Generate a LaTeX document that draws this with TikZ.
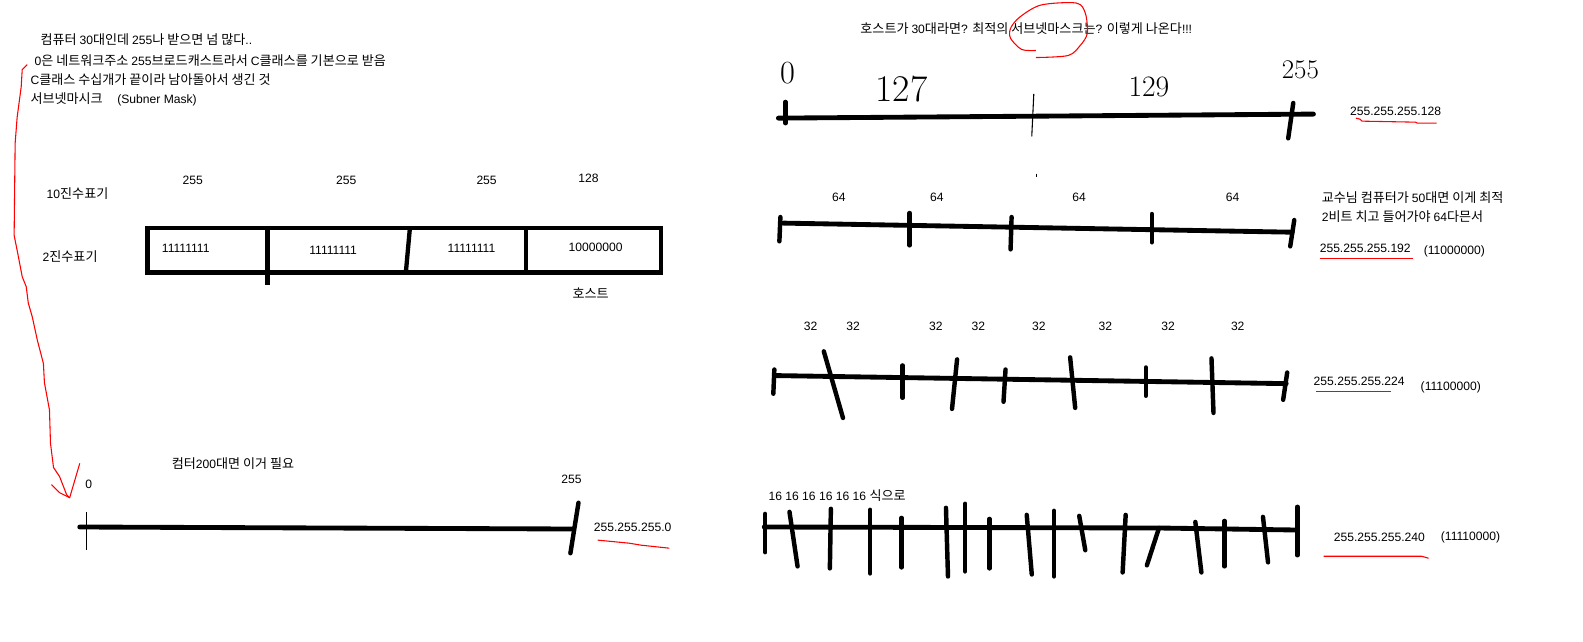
\documentclass[tikz,border=0pt]{standalone}
\usepackage{fontspec}
\newfontfamily\kr{Noto Sans CJK KR}[Scale=1.08]
\newfontfamily\lat{Liberation Sans}
\begin{document}
\begin{tikzpicture}[x=0.75pt,y=-0.75pt,
  txt/.style={font=\lat\fontsize{9}{11}\selectfont, inner sep=0pt, anchor=west},
  ctxt/.style={font=\lat\fontsize{9}{11}\selectfont, inner sep=0pt},
  hand/.style={font=\normalfont\fontsize{24}{24}\selectfont, inner sep=0pt},
  bar/.style={line width=3.6pt, line cap=round},
  tk/.style={line width=3.3pt, line cap=round},
  thinl/.style={line width=0.8pt},
  redl/.style={draw=red, line width=0.8pt},
  boxl/.style={line width=3.2pt}]
\useasboundingbox (0,0) rectangle (1568,635);
\fill[white] (0,0) rectangle (1568,635);

% ---------- top-left notes ----------
\node[txt] (t1) at (40,39) {{\kr 컴퓨터 }30{\kr 대인데 }255{\kr 나 받으면 넘 많다}..};
\node[txt] (t2) at (34,60) {0{\kr 은 네트워크주소 }255{\kr 브로드캐스트라서 }C{\kr 클래스를 기본으로 받음}};
\node[txt] (t3) at (30,79) {C{\kr 클래스 수십개가 끝이라 남아돌아서 생긴 것}};
\node[txt] (t4) at (30,98) {{\kr 서브넷마시크}\hspace{1.2em}(Subner Mask)};

% red arrow
\draw[redl] plot coordinates {(27,64) (22,69) (21,86) (17,116) (15,142) (14,233) (17,248) (22,274) (26,284) (28,300) (32,314) (37,337) (43,360) (44,379) (49,406) (50,439) (53,463) (59,472) (66,490) (69,493)};
\coordinate (atip) at (69,493);
\coordinate (al) at (51,480);
\coordinate (ar) at (79,459);
\draw[redl] (al) -- (59,488) -- (atip) -- (ar);

% ---------- binary box ----------
\node[txt] (dec) at (46,192) {10{\kr 진수표기}};
\node[txt] (bin) at (42,254) {2{\kr 진수표기}};
\node[ctxt] (d1) at (191,179) {255};
\node[ctxt] (d2) at (343,179) {255};
\node[ctxt] (d3) at (482,179) {255};
\node[ctxt] (d4) at (583,177) {128};
\draw[boxl] (146,226) rectangle (655,270);
\draw[boxl] (265,226) -- (265,282);
\draw[boxl] (406,226) -- (402,270);
\draw[boxl] (521,226) -- (521,270);
\node[ctxt] (b1) at (184,246) {11111111};
\node[ctxt] (b2) at (330,248) {11111111};
\node[ctxt] (b3) at (467,246) {11111111};
\node[ctxt] (b4) at (590,245) {10000000};
\node[ctxt,font=\kr\fontsize{9}{11}\selectfont] (host) at (585,290) {호스트};

% ---------- bottom-left line ----------
\node[txt] (c200) at (170,459) {{\kr 컴터}200{\kr 대면 이거 필요}};
\node[ctxt] (z0) at (88,480) {0};
\node[ctxt] (z255) at (566,475) {255};
\draw[bar] (79,522) -- (568,524);
\draw[thinl] (86,507) -- (86,545);
\draw[tk] (573,498) -- (565,548);
\node[txt] (m0) at (588,522) {255.255.255.0};
\draw[redl] plot coordinates {(592,535) (623,538) (635,540) (663,543)};

% ---------- right: title ----------
\node[txt] (title) at (852,28) {{\kr 호스트가 }30{\kr 대라면}? {\kr 최적의 서브넷마스크는}? {\kr 이렇게 나온다}!!!};
\draw[redl] plot[smooth] coordinates {(1026,50) (1012,49) (1001,38) (1001,28) (1010,17) (1031,5) (1066,3) (1075,13) (1077,33) (1070,45) (1058,55) (1026,57)};

% row 1
\node[hand] (h0) at (780,72) {0};
\node[hand,font=\normalfont\fontsize{28}{28}\selectfont] (h127) at (893,88) {127};
\node[hand,font=\normalfont\fontsize{22}{22}\selectfont] (h129) at (1138,86) {129};
\node[hand,font=\normalfont\fontsize{20}{20}\selectfont] (h255) at (1288,69) {255};
\draw[bar] (771,117) -- (1301,113);
\draw[tk] (778,101) -- (778,122);
\draw[thinl] (1024,93) -- (1022,135);
\draw[tk] (1281,102) -- (1276,137);
\node[txt] (m128) at (1337,110) {255.255.255.128};
\draw[redl] plot coordinates {(1343,117) (1347,118) (1349,120) (1402,121) (1404,122) (1423,122)};

% row 2
\draw[thinl] (1027,172) -- (1027,175);
\node[ctxt] (s1) at (831,195) {64};
\node[ctxt] (s2) at (928,195) {64};
\node[ctxt] (s3) at (1069,195) {64};
\node[ctxt] (s4) at (1221,195) {64};
\draw[bar] (776,221) -- (1280,230);
\draw[tk] (773,215) -- (772,239);
\draw[tk] (901,211) -- (901,243);
\draw[tk] (1002,215) -- (1001,247);
\draw[tk] (1141,212) -- (1141,240);
\draw[tk] (1282,218) -- (1278,244);
\node[txt] (n1) at (1309,196) {{\kr 교수님 컴퓨터가 }50{\kr 대면 이게 최적}};
\node[txt] (n2) at (1309,215) {2{\kr 비트 치고 들어가야 }64{\kr 다믄서}};
\node[txt] (m192) at (1307,246) {255.255.255.192};
\node[txt] (b192) at (1410,249) {(11000000)};
\draw[redl] (1307,256) -- (1400,256);

% row 3
\foreach \x [count=\i] in {803,845,927,969,1029,1095,1157,1226}
  \node[ctxt] (th\i) at (\x,323) {32};
\draw[bar] (767,372) -- (1274,380);
\draw[tk] (767,366) -- (766,390);
\draw[tk] (816,348) -- (835,414);
\draw[tk] (894,362) -- (894,394);
\draw[tk] (948,356) -- (943,405);
\draw[tk] (996,366) -- (994,398);
\draw[tk] (1060,354) -- (1065,404);
\draw[tk] (1135,364) -- (1135,392);
\draw[tk] (1200,355) -- (1202,409);
\draw[tk] (1275,369) -- (1271,396);
\node[txt] (m224) at (1301,378) {255.255.255.224};
\node[txt] (b224) at (1407,384) {(11100000)};
\draw[redl] (1304,388) -- (1378,388);

% row 4
\node[txt] (sx) at (761,491) {16 16 16 16 16 16 {\kr 식으로}};
\draw[bar] (757,522) -- (1148,523) -- (1285,525);
\draw[tk] (758,509) -- (758,547);
\draw[tk] (782,507) -- (790,561);
\draw[tk] (823,504) -- (822,563);
\draw[tk] (862,505) -- (862,568);
\draw[tk] (893,513) -- (893,562);
\draw[tk] (937,503) -- (939,571);
\draw[tk] (956,499) -- (956,566);
\draw[tk] (980,514) -- (980,563);
\draw[tk] (1017,510) -- (1022,569);
\draw[tk] (1044,506) -- (1044,571);
\draw[tk] (1069,511) -- (1075,545);
\draw[tk] (1115,510) -- (1112,567);
\draw[tk] (1148,523) -- (1136,560);
\draw[tk] (1184,517) -- (1190,567);
\draw[tk] (1213,516) -- (1213,561);
\draw[tk] (1251,512) -- (1256,557);
\draw[tk] (1285,502) -- (1285,550);
\node[txt] (m240) at (1321,532) {255.255.255.240};
\node[txt] (b240) at (1427,532) {(11110000)};
\draw[redl] plot coordinates {(1311,551) (1408,551) (1412,552) (1415,553)};
\end{tikzpicture}
\end{document}
